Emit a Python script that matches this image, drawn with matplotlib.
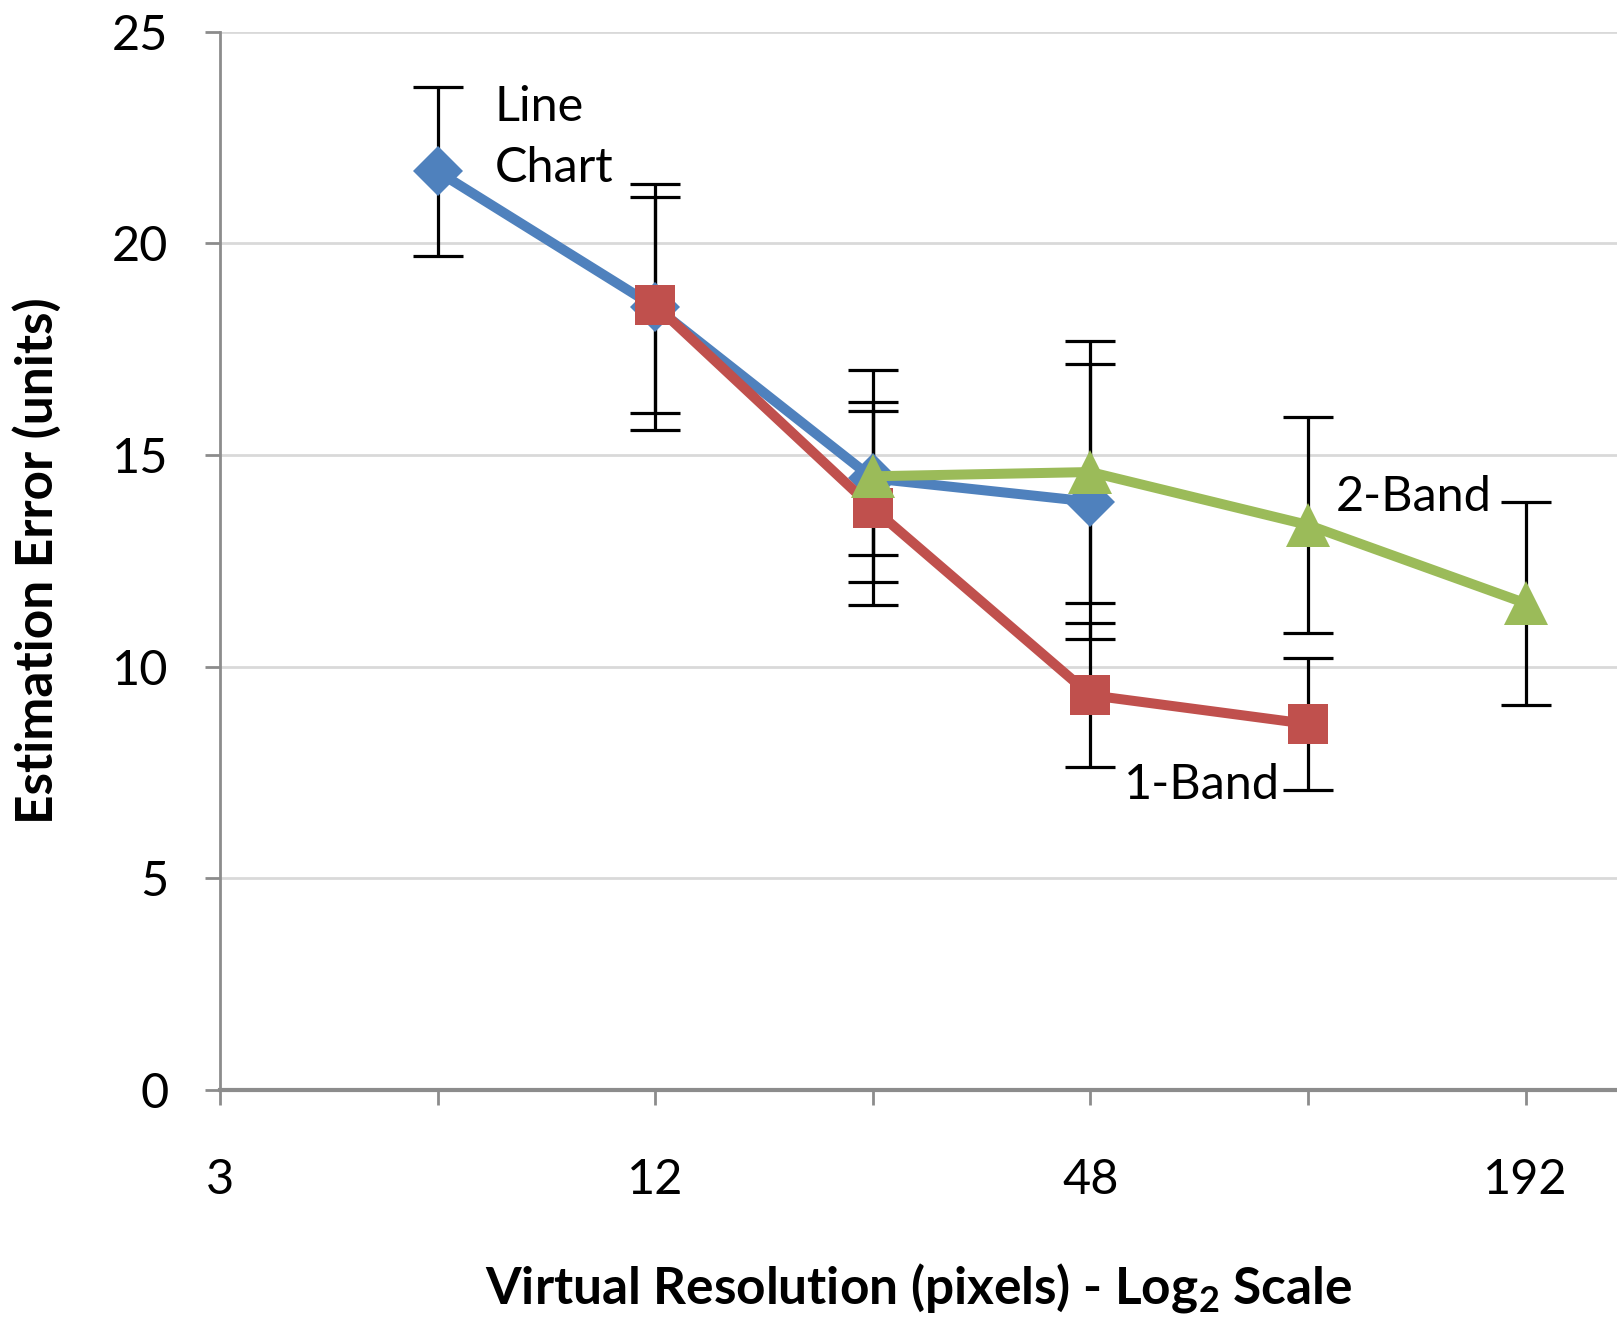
import matplotlib.pyplot as plt
from matplotlib.ticker import FixedLocator, FixedFormatter

plt.rcParams['font.family'] = ['Lato', 'DejaVu Sans']

# Data
line_x = [6, 12, 24, 48]
line_y = [21.7, 18.5, 14.45, 13.9]
line_err = [2.0, 2.9, 1.8, 3.25]

band1_x = [12, 24, 48, 96]
band1_y = [18.55, 13.75, 9.33, 8.65]
band1_err = [2.55, 2.3, 1.7, 1.55]

band2_x = [24, 48, 96, 192]
band2_y = [14.5, 14.6, 13.35, 11.5]
band2_err = [2.5, 3.1, 2.55, 2.4]

tick_pos = [3, 6, 12, 24, 48, 96, 192]
tick_labels = ['3', '', '12', '', '48', '', '192']

fig = plt.figure(figsize=(16.17, 13.23), dpi=100)
ax = fig.add_axes([0.136, 0.176, 0.864, 0.8])

series = [
    (line_x, line_y, line_err, '#4F81BD', 'D', 25),
    (band1_x, band1_y, band1_err, '#C0504D', 's', 29),
    (band2_x, band2_y, band2_err, '#9BBB59', '^', 31),
]
z = 3
for xs, ys, errs, color, marker, ms in series:
    ax.errorbar(xs, ys, yerr=errs, fmt='none', ecolor='black', elinewidth=2.3,
                capsize=18, capthick=2.3, zorder=2)
    ax.plot(xs, ys, color=color, lw=7.2, marker=marker, markersize=ms,
            markeredgewidth=0, zorder=z)
    z += 1

ax.set_xscale('log', base=2)
ax.set_xlim(3, 3 * 2 ** 6.42)
ax.set_ylim(0, 25)
ax.xaxis.set_major_locator(FixedLocator(tick_pos))
ax.xaxis.set_major_formatter(FixedFormatter(tick_labels))
ax.xaxis.set_minor_locator(FixedLocator([]))
ax.set_yticks([0, 5, 10, 15, 20, 25])

ax.grid(axis='y', color='#d9d9d9', lw=2)
ax.set_axisbelow(True)
for s in ['top', 'right']:
    ax.spines[s].set_visible(False)
ax.spines['left'].set_color('#8c8c8c')
ax.spines['left'].set_linewidth(2)
ax.spines['bottom'].set_color('#8c8c8c')
ax.spines['bottom'].set_linewidth(3)
ax.tick_params(axis='y', length=11, width=2, color='#8c8c8c', labelsize=35, pad=26)
ax.tick_params(axis='x', length=11, width=2, color='#8c8c8c', labelsize=35, pad=38)

ax.set_xlabel('Virtual Resolution (pixels) - Log$_\\mathregular{2}$ Scale',
              fontsize=37, fontweight='bold', labelpad=42)
ax.set_ylabel('Estimation Error (units)', fontsize=37, fontweight='bold', labelpad=36)

ax.text(7.2, 22.5, 'Line\nChart', fontsize=35, va='center', ha='left', linespacing=1.45)
ax.text(105, 14.0, '2-Band', fontsize=35, va='center', ha='left')
ax.text(53.5, 7.2, '1-Band', fontsize=35, va='center', ha='left')

fig.savefig('out.png', dpi=100, facecolor='white')
